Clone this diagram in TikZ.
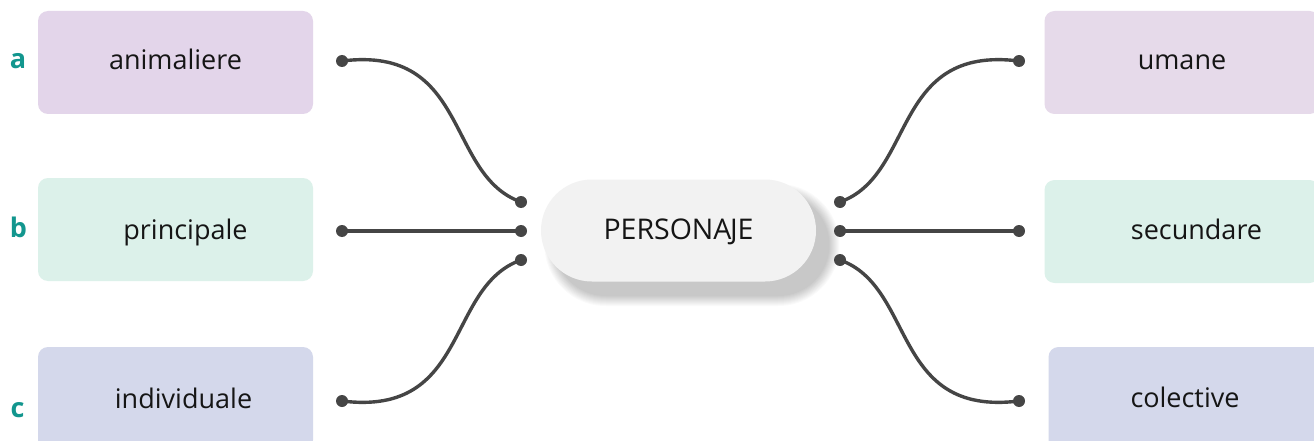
\documentclass[tikz,border=0pt]{standalone}
\usepackage{fontspec}
\setmainfont{Open Sans}
\definecolor{boxA}{HTML}{E3D5EA}
\definecolor{boxAr}{HTML}{E6DAEA}
\definecolor{boxB}{HTML}{DCF1EA}
\definecolor{boxC}{HTML}{D4D8EB}
\definecolor{teal}{HTML}{12968E}
\definecolor{linegray}{HTML}{454545}
\definecolor{pill}{HTML}{F2F2F2}
\definecolor{ink}{HTML}{151515}
\tikzset{
  catbox/.style={rectangle, rounded corners=10pt, minimum width=275pt, minimum height=103pt, inner sep=0pt, draw=none},
  lbl/.style={anchor=base, inner sep=0pt, text=ink, font=\fontsize{27}{32}\selectfont},
  letter/.style={anchor=base, inner sep=0pt, text=teal, font=\fontsize{27}{32}\selectfont\bfseries},
  dot/.style={circle, fill=linegray, minimum size=12pt, inner sep=0pt},
  conn/.style={draw=linegray, line width=3.4pt},
  centerpill/.style={rectangle, rounded corners=51pt, fill=pill, minimum width=275pt, minimum height=102pt, inner sep=0pt},
  shadowlayer/.style={fill=black, opacity=0.02}
}
\begin{document}
\begin{tikzpicture}[x=1pt, y=-1pt]
\clip (0,0) rectangle (1314,441);
\fill[white] (0,0) rectangle (1314,441);
% boxes
\node[catbox, fill=boxA] (boxa) at (175.5,62.5) {};
\node[catbox, fill=boxB] (boxb) at (175.5,229.5) {};
\node[catbox, fill=boxC] (boxc) at (175.5,398.5) {};
\node[catbox, fill=boxAr] (boxu) at (1182,62.5) {};
\node[catbox, fill=boxB] (boxs) at (1182,231.5) {};
\node[catbox, fill=boxC] (boxco) at (1186,398.5) {};
% texts
\node[lbl] (ta) at (175.5,70) {animaliere};
\node[lbl] (tb) at (185.5,239) {principale};
\node[lbl] (tc) at (183.5,408) {individuale};
\node[lbl] (tu) at (1182,70) {umane};
\node[lbl] (ts) at (1196.5,239) {secundare};
\node[lbl] (tco) at (1185,407) {colective};
\node[letter] (la) at (18,69) {a};
\node[letter] (lb) at (18.5,237) {b};
\node[letter] (lc) at (17.5,417) {c};
% soft shadow of the centre pill
\foreach \i in {0,...,10}{
  \fill[shadowlayer, rounded corners={51+\i}]
    ({692-137.5-\i},{245-51-\i}) rectangle ({692+137.5+\i},{245+51+\i});
}
% center
\node[centerpill] (center) at (678.5,230.5) {};
\node[lbl, font=\fontsize{28.5}{33}\selectfont] (tcenter) at (678.5,239) {PERSONA\kern-1.5pt JE};
% dots
\node[dot] (da) at (342,61) {};
\node[dot] (db) at (342,231) {};
\node[dot] (dc) at (342,401) {};
\node[dot] (dai) at (521,202) {};
\node[dot] (dbi) at (521,231) {};
\node[dot] (dci) at (521,260) {};
\node[dot] (du) at (1019,61) {};
\node[dot] (ds) at (1019,231) {};
\node[dot] (dco) at (1019,401) {};
\node[dot] (dui) at (840,202) {};
\node[dot] (dsi) at (840,231) {};
\node[dot] (dcoi) at (840,260) {};
% connectors
\draw[conn] (da.center) .. controls +(128,-16) and +(-76,-27) .. (dai.center);
\draw[conn] (db.center) -- (dbi.center);
\draw[conn] (dc.center) .. controls +(128,16) and +(-76,27) .. (dci.center);
\draw[conn] (du.center) .. controls +(-128,-16) and +(76,-27) .. (dui.center);
\draw[conn] (ds.center) -- (dsi.center);
\draw[conn] (dco.center) .. controls +(-128,16) and +(76,27) .. (dcoi.center);
\end{tikzpicture}
\end{document}
